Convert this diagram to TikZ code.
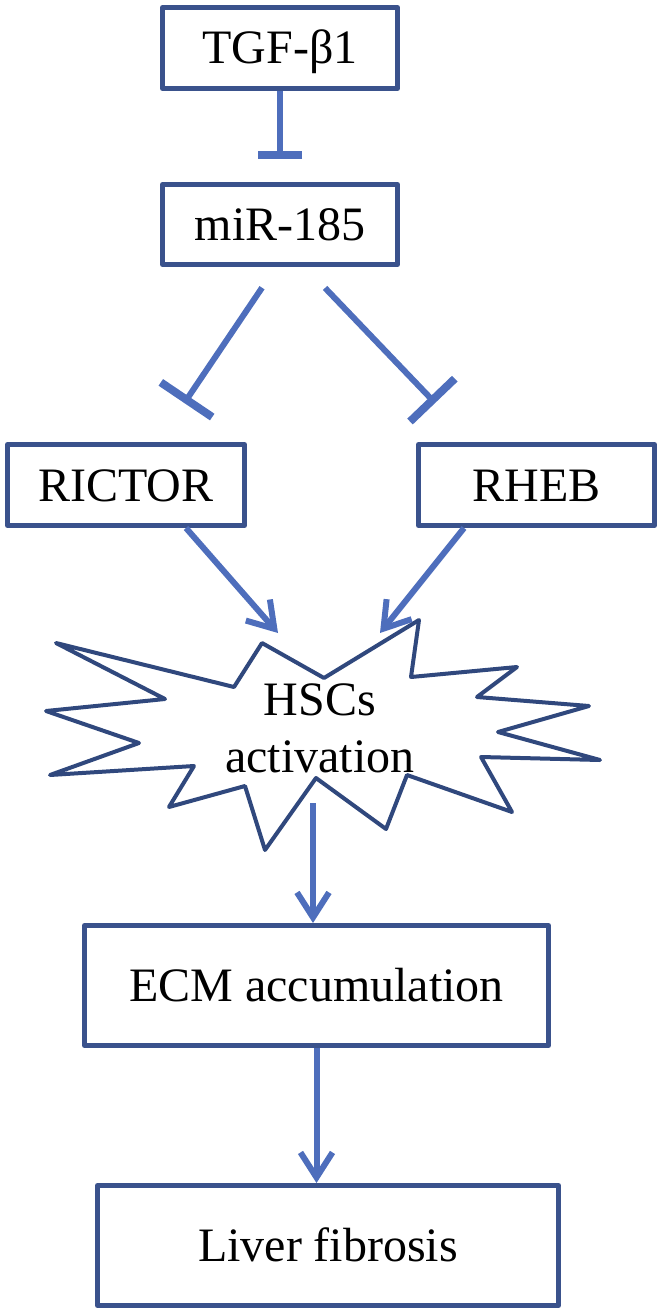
\documentclass[tikz,border=0pt]{standalone}
\usepackage{fontspec}
\setmainfont{Liberation Serif}
\usetikzlibrary{arrows.meta,calc}
\definecolor{lineblue}{RGB}{78,110,188}
\definecolor{boxblue}{RGB}{58,82,140}
\definecolor{starblue}{RGB}{48,72,125}
\begin{document}
\begin{tikzpicture}[x=1pt,y=-1pt,
  every node/.style={font=\fontsize{48}{57}\selectfont},
  box/.style={draw=boxblue,line width=5pt,inner sep=0pt,text height=32pt,text depth=0pt,line join=round},
  inh/.style={draw=lineblue,line width=6pt,-{Bar[width=#1,line width=8pt]}},
  act/.style={draw=lineblue,line width=6pt,-{Straight Barb[length=25pt,width=32pt,line width=6pt]}},
  star/.style={draw=starblue,line width=4pt,line join=round,fill=white}
]
\useasboundingbox (0,0) rectangle (660,1313);
\node[box,minimum width=235pt,minimum height=81pt] (tgf) at (280,48) {TGF-β1};
\node[box,minimum width=235pt,minimum height=80pt] (mir) at (280,224.5) {miR-185};
\node[box,minimum width=237pt,minimum height=81pt] (ric) at (126,485) {RICTOR};
\node[box,minimum width=236pt,minimum height=81pt] (rheb) at (536.5,485) {RHEB};
\node[box,minimum width=464pt,minimum height=120pt] (ecm) at (316.5,985.5) {ECM accumulation};
\node[box,minimum width=461pt,minimum height=120pt] (liver) at (328,1245.5) {Liver fibrosis};

\draw[star] (262,643) -- (324,678) -- (419,620) -- (411,677) -- (517,667) -- (477,697)
  -- (589,706) -- (498,732) -- (600,760) -- (481,757) -- (512,812) -- (407,775)
  -- (386,829) -- (316,778) -- (265,850) -- (245,786) -- (169,807) -- (194,766)
  -- (50,775) -- (139,743) -- (46,711) -- (165,699) -- (56,643) -- (234,687) -- cycle;
\node[align=center,inner sep=0pt] (hsc) at (320,728.5) {HSCs\\activation};

\coordinate (tipL) at (278,633);
\coordinate (tipR) at (380,633);
\coordinate (hscout) at (313,803);

\draw[inh=44pt,shorten >=23pt] (tgf) -- (mir);
\draw[inh=62pt,shorten <=25pt,shorten >=47pt] ([xshift=-4pt]mir.south) -- ([xshift=32pt]ric.north);
\draw[inh=62pt,shorten <=29pt,shorten >=54pt] ([xshift=25pt]mir.south) -- ([xshift=-64pt]rheb.north);

\draw[act] ([xshift=60pt]ric.south) -- (tipL);
\draw[act] ([xshift=-72.5pt]rheb.south) -- (tipR);
\draw[act] (hscout) -- (hscout |- ecm.north);
\draw[act] (ecm.south) -- (ecm.south |- liver.north);
\end{tikzpicture}
\end{document}
